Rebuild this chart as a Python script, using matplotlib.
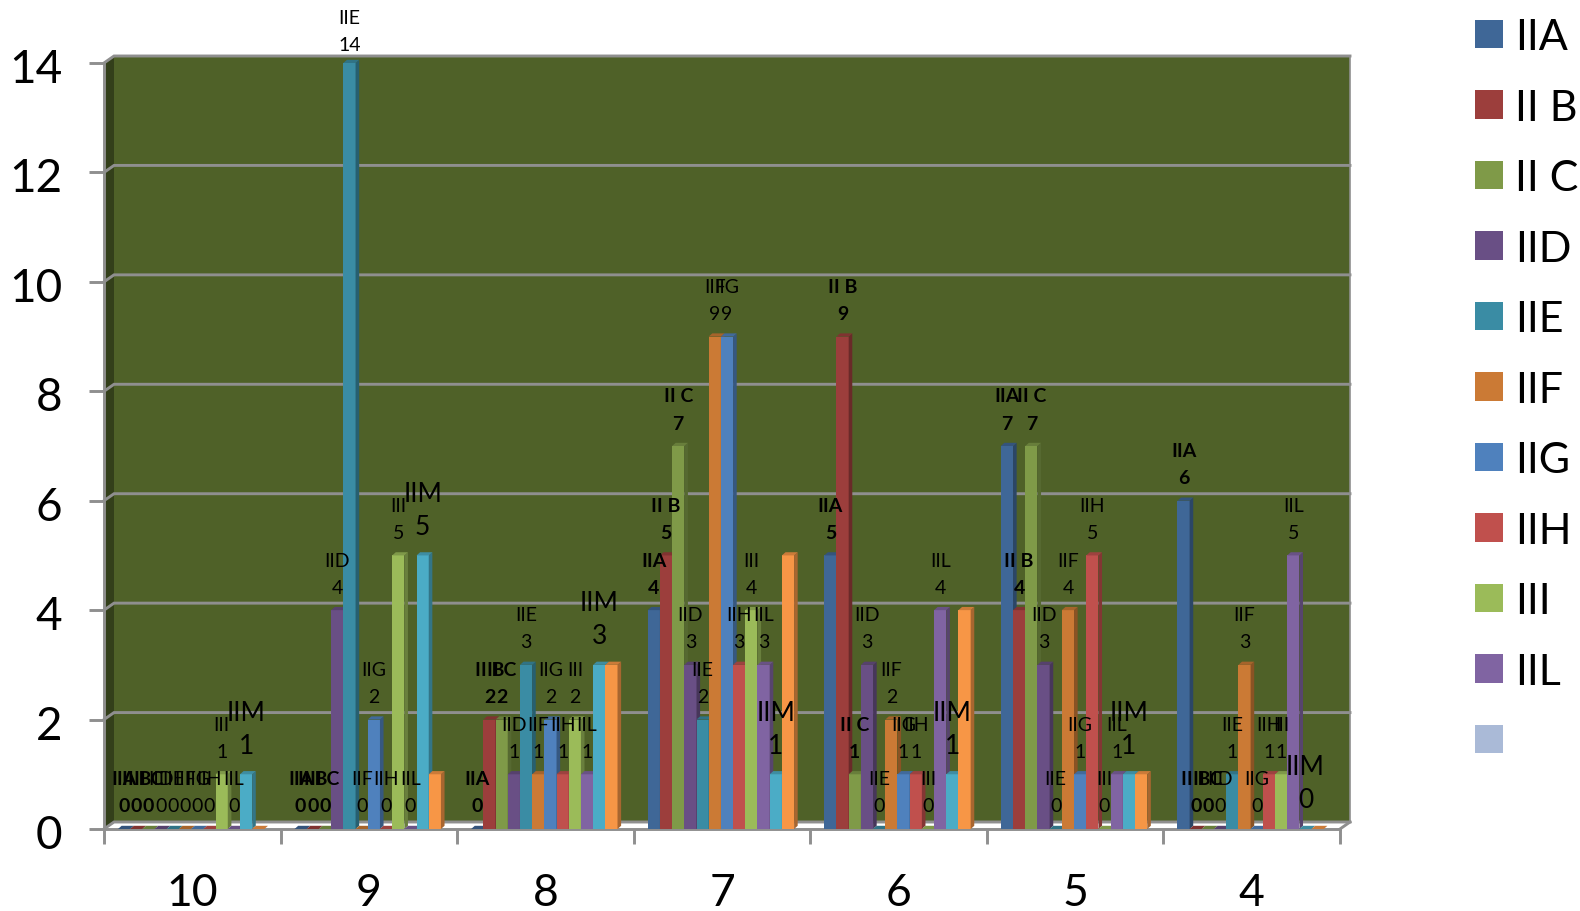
import matplotlib
matplotlib.use("Agg")
import matplotlib.pyplot as plt
from matplotlib.patches import Patch
from matplotlib.transforms import ScaledTranslation

plt.rcParams["font.family"] = ["Lato", "DejaVu Sans"]

grades = ["10", "9", "8", "7", "6", "5", "4"]
series_names = ["IIA", "II B", "II C", "IID", "IIE", "IIF", "IIG", "IIH", "III", "IIL", "IIM", ""]
series_colors = ["#3f6797", "#9c3e3c", "#7f9a48", "#694f85", "#3a8ca4", "#cb7a35",
                 "#4f81bd", "#c0504d", "#9bbb59", "#8064a2", "#4bacc6", "#f79646"]

iia = [0, 0, 0, 4, 5, 7, 6]
iib = [0, 0, 2, 5, 9, 4, 0]
iic = [0, 0, 2, 7, 1, 7, 0]
iid = [0, 4, 1, 3, 3, 3, 0]
iie = [0, 14, 3, 2, 0, 0, 1]
iif = [0, 0, 1, 9, 2, 4, 3]
iig = [0, 2, 2, 9, 1, 1, 0]
iih = [0, 0, 1, 3, 1, 5, 1]
iii = [1, 5, 2, 4, 0, 0, 1]
iil = [0, 0, 1, 3, 4, 1, 5]
iim = [1, 5, 3, 1, 1, 1, 0]
extra = [0, 1, 3, 5, 4, 1, 0]
all_series = [iia, iib, iic, iid, iie, iif, iig, iih, iii, iil, iim, extra]

legend_names = series_names[:10] + [""]
legend_colors = series_colors[:10] + ["#aabad7"]

W, H = 1580, 912
GREY = "#8f8f8f"
WALL = "#4f6128"
SIDE = "#333f1a"


def shade(color, k):
    r, g, b = matplotlib.colors.to_rgb(color)
    return (r * k, g * k, b * k)


fig = plt.figure(figsize=(W / 100, H / 100), dpi=100, facecolor="white")
ax = fig.add_axes([104 / W, 1 - 830 / H, (1340 - 104) / W, (830 - 64) / H])
ax.set_xlim(0, 7)
ax.set_ylim(0, 14)
ax.patch.set_visible(False)

# one pixel in data units
px = 7 / (1340 - 104)
py = 14 / (830 - 64)
wall_dx, wall_dy = 10 * px, 7 * py
bar_dx, bar_dy = 3.6 * px, 3.2 * py

# back wall, side wall, floor
ax.fill([wall_dx, 7 + wall_dx, 7 + wall_dx, wall_dx],
        [wall_dy, wall_dy, 14 + wall_dy, 14 + wall_dy], color=WALL, lw=0, zorder=0, clip_on=False)
ax.fill([0, wall_dx, wall_dx, 0], [0, wall_dy, 14 + wall_dy, 14], color=SIDE, lw=0, zorder=0, clip_on=False)
ax.plot([7 + wall_dx, 7 + wall_dx], [wall_dy, 14 + wall_dy], color=GREY, lw=1.2, zorder=1, clip_on=False)
for v in range(0, 15, 2):
    ax.plot([0, wall_dx, 7 + wall_dx], [v, v + wall_dy, v + wall_dy], color=GREY, lw=2.1, zorder=1,
            clip_on=False, solid_joinstyle="miter")
ax.plot([7, 7 + wall_dx], [0, wall_dy], color=GREY, lw=2.1, zorder=1, clip_on=False)

# bars, later series cover the side of the one before
bar_w = 12.2 / 176.6
start = 14 / 176.6
for s, vals in enumerate(all_series):
    col = series_colors[s]
    for g, v in enumerate(vals):
        x0 = g + start + s * bar_w
        z = 3 + s * 0.1
        ax.bar(x0, v, width=bar_w, bottom=0, align="edge", color=col, lw=0, zorder=z, clip_on=False)
        ax.fill([x0 + bar_w, x0 + bar_w + bar_dx, x0 + bar_w + bar_dx, x0 + bar_w],
                [0, bar_dy, v + bar_dy, v], color=shade(col, 0.68), lw=0, zorder=z, clip_on=False)
        ax.fill([x0, x0 + bar_dx, x0 + bar_w + bar_dx, x0 + bar_w],
                [v, v + bar_dy, v + bar_dy, v], color=shade(col, 0.82), lw=0, zorder=z, clip_on=False)

# data labels, name above value. last series has none
for s, vals in enumerate(all_series[:11]):
    big = series_names[s] == "IIM"
    weight = "bold" if s < 3 else "normal"
    size = 19 if big else 14
    for g, v in enumerate(vals):
        up_num, up_name = (29, 62) if big else (23, 50)
        xc = g + start + (s + 0.5) * bar_w
        # top bar has no room, its label sits lower
        if v * (830 - 64) / 14 + up_name > 812:
            up_num, up_name = 19, 46
        ax.annotate(str(v), (xc, v), xytext=(0, up_num * 0.72), textcoords="offset points",
                    ha="center", va="center", fontsize=size, fontweight=weight,
                    color="black", zorder=20, annotation_clip=False)
        ax.annotate(series_names[s], (xc, v), xytext=(0, up_name * 0.72), textcoords="offset points",
                    ha="center", va="center", fontsize=size, fontweight=weight,
                    color="black", zorder=20, annotation_clip=False)

for name in ["top", "right"]:
    ax.spines[name].set_visible(False)
for name in ["left", "bottom"]:
    ax.spines[name].set_color(GREY)
    ax.spines[name].set_linewidth(2.1)
    ax.spines[name].set_zorder(2)

ax.set_yticks(range(0, 15, 2))
ax.tick_params(axis="y", length=11, width=2.1, color=GREY, labelsize=33, pad=19, labelcolor="black")
# digits sit a little low in the original
for lab in ax.get_yticklabels():
    lab.set_transform(lab.get_transform() + ScaledTranslation(0, -2 / 100, fig.dpi_scale_trans))
ax.set_xticks(range(8))
ax.set_xticklabels([])
ax.tick_params(axis="x", which="major", length=11, width=2.1, color=GREY)
ax.set_xticks([i + 0.5 for i in range(7)], minor=True)
ax.set_xticklabels(grades, minor=True)
ax.tick_params(axis="x", which="minor", length=0, labelsize=32, pad=31, labelcolor="black")

handles = [Patch(facecolor=c, edgecolor="none") for c in legend_colors]
fig.legend(handles, legend_names, loc="upper left", bbox_to_anchor=(1475 / W, 1 - 19 / H),
           bbox_transform=fig.transFigure, frameon=False, fontsize=31, borderpad=0, borderaxespad=0,
           handlelength=0.66, handleheight=0.64, handletextpad=0.27, labelspacing=0.755)

fig.savefig("out.png", dpi=100, facecolor="white")
